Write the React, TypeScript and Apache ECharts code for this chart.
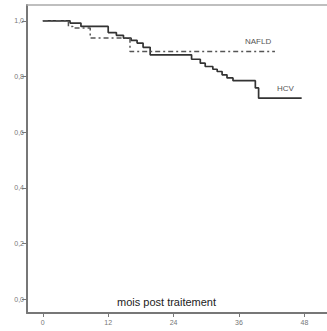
import React, { useEffect, useRef } from "react";
import * as echarts from "echarts";

const xTicks = [0, 12, 24, 36, 48];
const yTicks = [0, 0.2, 0.4, 0.6, 0.8, 1.0];

const hcvTimes = [0, 5.0, 7.0, 12.0, 13.5, 14.8, 16.2, 17.3, 18.4, 19.7, 27.3, 28.9, 29.8, 31.2, 32.0, 32.9, 33.8, 34.9, 39.0, 39.6, 47.5];
const hcvValues = [1.0, 0.992, 0.98, 0.958, 0.948, 0.938, 0.93, 0.92, 0.905, 0.878, 0.862, 0.848, 0.836, 0.826, 0.818, 0.806, 0.795, 0.785, 0.759, 0.722, 0.722];

const nafldTimes = [0, 4.7, 5.5, 8.7, 16.0, 42.6];
const nafldValues = [1.0, 0.98, 0.974, 0.938, 0.89, 0.89];

const seriesNames = ["HCV", "NAFLD"];
const xTitle = "mois post traitement";

export default function App() {
  const ref = useRef<HTMLDivElement>(null);
  useEffect(() => {
    if (!ref.current) return;
    const chart = echarts.init(ref.current, null, { renderer: "svg" });
    const hcv = hcvTimes.map((t, i) => [t, hcvValues[i]]);
    const nafld = nafldTimes.map((t, i) => [t, nafldValues[i]]);
    const font = "'Liberation Sans', Arial, sans-serif";
    chart.setOption({
      animation: false,
      backgroundColor: "#ffffff",
      grid: {
        left: 27,
        top: 5,
        right: 0,
        bottom: 18,
      },
      xAxis: [
        {
          type: "value",
          min: -2.9,
          max: 52.15,
          splitLine: { show: false },
          axisLine: { show: true, onZero: false, lineStyle: { color: "#777777", width: 2 } },
          axisTick: { show: true, customValues: xTicks, length: 4, lineStyle: { color: "#777777", width: 1 } },
          axisLabel: {
            customValues: xTicks,
            color: "#777777",
            fontSize: 7,
            fontFamily: font,
            margin: 6,
          },
        },
        {
          type: "value",
          position: "top",
          min: -2.9,
          max: 52.15,
          splitLine: { show: false },
          axisLine: { show: true, onZero: false, lineStyle: { color: "#aaaaaa", width: 1.5 } },
          axisTick: { show: false },
          axisLabel: { show: false },
        },
      ],
      yAxis: {
        type: "value",
        min: -0.05,
        max: 1.057,
        splitLine: { show: false },
        axisLine: { show: true, onZero: false, lineStyle: { color: "#777777", width: 2 } },
        axisTick: { show: true, customValues: yTicks, length: 5, lineStyle: { color: "#777777", width: 1 } },
        axisLabel: {
          customValues: yTicks,
          color: "#777777",
          fontSize: 7,
          fontFamily: font,
          margin: 3,
          formatter: (v: number) => v.toFixed(1).replace(".", ","),
        },
      },
      series: [
        {
          name: seriesNames[0],
          type: "line",
          step: "end",
          data: hcv,
          showSymbol: false,
          lineStyle: { color: "#333333", width: 1.7 },
        },
        {
          name: seriesNames[1],
          type: "line",
          step: "end",
          data: nafld,
          showSymbol: false,
          lineStyle: { color: "#555555", width: 1.5, type: [5, 3, 2, 3] },
        },
      ],
      graphic: [
        {
          type: "text",
          left: 245,
          top: 37,
          style: { text: "NAFLD", fill: "#555555", font: `8px ${font}` },
        },
        {
          type: "text",
          left: 277,
          top: 84,
          style: { text: "HCV", fill: "#555555", font: `8px ${font}` },
        },
        {
          type: "text",
          left: 117,
          top: 296,
          style: { text: xTitle, fill: "#222222", font: `11px ${font}` },
        },
      ],
    });
    return () => chart.dispose();
  }, []);
  return (
    <div
      ref={ref}
      style={{ position: "absolute", left: 0, top: 0, width: 327, height: 331 }}
    />
  );
}
